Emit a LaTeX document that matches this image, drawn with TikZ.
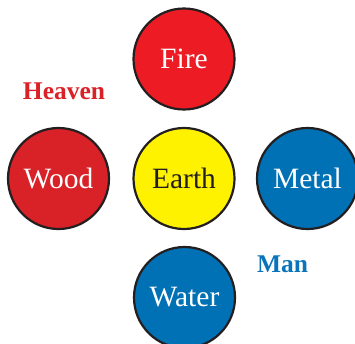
\documentclass[tikz,border=0pt]{standalone}
\usepackage{fontspec}
\setmainfont{Liberation Serif}
\definecolor{firered}{HTML}{ED1C24}
\definecolor{woodred}{HTML}{D92128}
\definecolor{earthyel}{HTML}{FFF200}
\definecolor{elemblue}{HTML}{0071B5}
\definecolor{heavred}{HTML}{DA2128}
\definecolor{manblue}{HTML}{0A74BA}
\definecolor{darktxt}{HTML}{231F20}
\tikzset{
  elem/.style={circle, draw=darktxt, line width=2.2pt, minimum size=101pt, inner sep=0pt, font=\fontsize{29.5}{31}\selectfont},
  realm/.style={font=\bfseries\fontsize{25.5}{27}\selectfont}
}
\begin{document}
\begin{tikzpicture}[x=1pt,y=-1pt]
\useasboundingbox (0,0) rectangle (355,343);
\node[elem, fill=firered, text=white] (fire) at (184,59) {Fire};
\node[elem, fill=woodred, text=white] (wood) at (58.5,178.5) {Wood};
\node[elem, fill=earthyel, text=darktxt] (earth) at (184,178.5) {Earth};
\node[elem, fill=elemblue, text=white] (metal) at (307.5,178.5) {Metal};
\node[elem, fill=elemblue, text=white] (water) at (184.5,297.5) {Water};
\node[realm, text=heavred] (heaven) at (64,91) {Heaven};
\node[realm, text=manblue] (man) at (282.5,264) {Man};
\end{tikzpicture}
\end{document}
